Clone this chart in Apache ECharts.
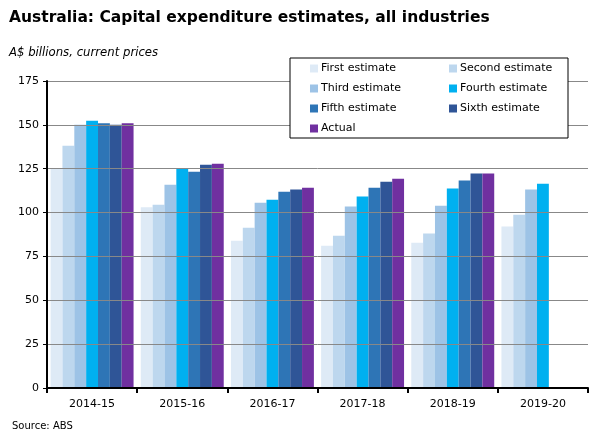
<!DOCTYPE html>
<html><head><meta charset="utf-8">
<script src="https://cdn.jsdelivr.net/npm/echarts@6/dist/echarts.min.js"></script>
<style>html,body{margin:0;padding:0;background:#fff}#c{width:606px;height:447px}</style>
</head><body><div id="c"></div>
<script>
const categories = ['2014-15','2015-16','2016-17','2017-18','2018-19','2019-20'];
const seriesNames = ['First estimate','Second estimate','Third estimate','Fourth estimate','Fifth estimate','Sixth estimate','Actual'];
const firstEstimate  = [125.4, 103.0, 84.0, 81.1, 82.8, 92.0];
const secondEstimate = [138.1, 104.5, 91.4, 86.8, 88.0, 98.8];
const thirdEstimate  = [150.1, 115.9, 105.6, 103.4, 103.9, 113.1];
const fourthEstimate = [152.4, 125.0, 107.3, 109.1, 113.7, 116.5];
const fifthEstimate  = [150.9, 123.3, 111.9, 114.2, 118.3, null];
const sixthEstimate  = [150.1, 127.3, 113.1, 117.6, 122.3, null];
const actual         = [150.9, 127.9, 114.2, 119.3, 122.3, null];
const yTicks = [0,25,50,75,100,125,150,175];
const colors = ['#DEEAF6','#BDD7EE','#9DC3E6','#00B0F0','#2E75B6','#2F5597','#7030A0'];
const values = [firstEstimate, secondEstimate, thirdEstimate, fourthEstimate, fifthEstimate, sixthEstimate, actual];
const font = 'DejaVu Sans';
const chart = echarts.init(document.getElementById('c'), null, {renderer:'canvas'});
const legendCommon = {orient:'vertical', itemWidth:8, itemHeight:8, itemGap:9, icon:'rect',
  textStyle:{fontFamily:font, fontSize:11, color:'#000', padding:[0,0,0,-2]}, selectedMode:false, padding:0};
chart.setOption({
  animation:false,
  title:[
    {text:'Australia: Capital expenditure estimates, all industries', left:9, top:10, padding:0,
     textStyle:{fontFamily:font, fontSize:15.5, fontWeight:'bold', color:'#000'}},
    {text:'A$ billions, current prices', left:9, top:47, padding:0,
     textStyle:{fontFamily:font, fontSize:11.7, fontStyle:'italic', fontWeight:'normal', color:'#000'}},
    {text:'Source: ABS', left:12, top:421, padding:0,
     textStyle:{fontFamily:font, fontSize:10, fontWeight:'normal', color:'#000'}}
  ],
  graphic:[{type:'rect', shape:{x:290, y:58, width:278, height:80}, style:{fill:'#fff', stroke:'#000', lineWidth:1}, z:10}],
  legend:[
    Object.assign({}, legendCommon, {left:310, top:63, data:[seriesNames[0],seriesNames[2],seriesNames[4],seriesNames[6]], z:20}),
    Object.assign({}, legendCommon, {left:449, top:63, data:[seriesNames[1],seriesNames[3],seriesNames[5]], z:20})
  ],
  grid:{left:47, right:18, top:81, bottom:59, containLabel:false},
  xAxis:{type:'category', data:categories, z:5,
    axisLine:{lineStyle:{color:'#000', width:2}},
    axisTick:{show:true, length:5, lineStyle:{color:'#000', width:2}},
    axisLabel:{fontFamily:font, fontSize:11, color:'#000', margin:11}},
  yAxis:{type:'value', min:0, max:175, interval:25, z:5,
    axisLine:{show:true, lineStyle:{color:'#000', width:2}},
    axisTick:{show:true, length:4, lineStyle:{color:'#000', width:1}},
    axisLabel:{fontFamily:font, fontSize:11, color:'#000', margin:8},
    splitLine:{lineStyle:{color:'#888', width:1}}},
  series: seriesNames.map((n,i)=>({name:n, type:'bar', data:values[i], barGap:'0%', barCategoryGap:'8%',
    itemStyle:{color:colors[i]}}))
});
</script></body></html>
